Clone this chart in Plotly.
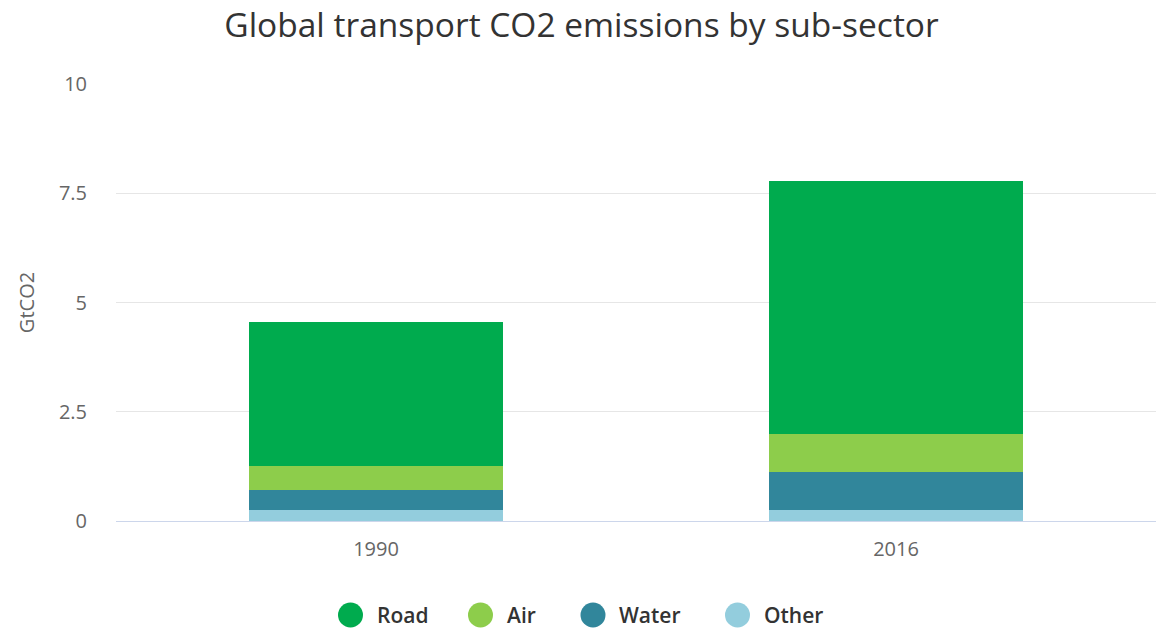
import plotly.graph_objects as go

years = ["1990", "2016"]
other = [0.25, 0.25]
water = [0.46, 0.86]
air = [0.56, 0.88]
road = [3.29, 5.80]

series = [
    ("Other", other, "#93CDDD"),
    ("Water", water, "#31869B"),
    ("Air", air, "#8DCD4B"),
    ("Road", road, "#00AB4E"),
]

W, H = 1163, 628
ML, MR, MT, MB = 116, 7, 84, 107
PW, PH = W - ML - MR, H - MT - MB

fig = go.Figure()
for name, vals, col in series:
    fig.add_trace(go.Bar(x=years, y=vals, name=name, marker=dict(color=col, line=dict(width=0)),
                         showlegend=False))

# manual legend (circles + labels) below the plot
legend_px = {"Road": (350.5, 375), "Air": (480.5, 505), "Water": (593, 617), "Other": (737.5, 762)}
legend_y = 615
r = 12.5
shapes, annots = [], []
for name, vals, col in reversed(series):
    cx, tx = legend_px[name]
    shapes.append(dict(type="circle", xref="paper", yref="paper",
                       x0=(cx - r - ML) / PW, x1=(cx + r - ML) / PW,
                       y0=(MT + PH - legend_y - r) / PH, y1=(MT + PH - legend_y + r) / PH,
                       fillcolor=col, line=dict(width=0)))
    annots.append(dict(text=name, xref="paper", yref="paper", x=(tx - ML) / PW,
                       y=(MT + PH - legend_y) / PH, xanchor="left", yanchor="middle",
                       showarrow=False, font=dict(size=21, color="#333333", weight=600)))

fig.update_layout(
    width=W, height=H,
    barmode="stack", bargap=0.51,
    plot_bgcolor="white", paper_bgcolor="white",
    margin=dict(l=ML, r=MR, t=MT, b=MB),
    showlegend=False,
    shapes=shapes, annotations=annots,
    font=dict(family="Open Sans", color="#666666"),
    title=dict(text="Global transport CO2 emissions by sub-sector", x=0.5, xanchor="center",
               y=0.96, yanchor="middle", font=dict(size=33.5, color="#333333", family="Open Sans")),
    xaxis=dict(showgrid=False, showline=True, linecolor="#ccd6eb", linewidth=1,
               tickfont=dict(size=20, color="#666666"), ticks="", ticklabelstandoff=10),
    yaxis=dict(range=[0, 10], tickvals=[0, 2.5, 5, 7.5, 10], ticktext=["0", "2.5", "5", "7.5", "10"],
               showgrid=True, gridcolor="#e6e6e6", zeroline=False, showline=False,
               tickfont=dict(size=20, color="#666666"), ticklabelstandoff=28,
               title=dict(text="GtCO2", font=dict(size=20, color="#666666"), standoff=18)),
)

fig.write_html("out.html")
